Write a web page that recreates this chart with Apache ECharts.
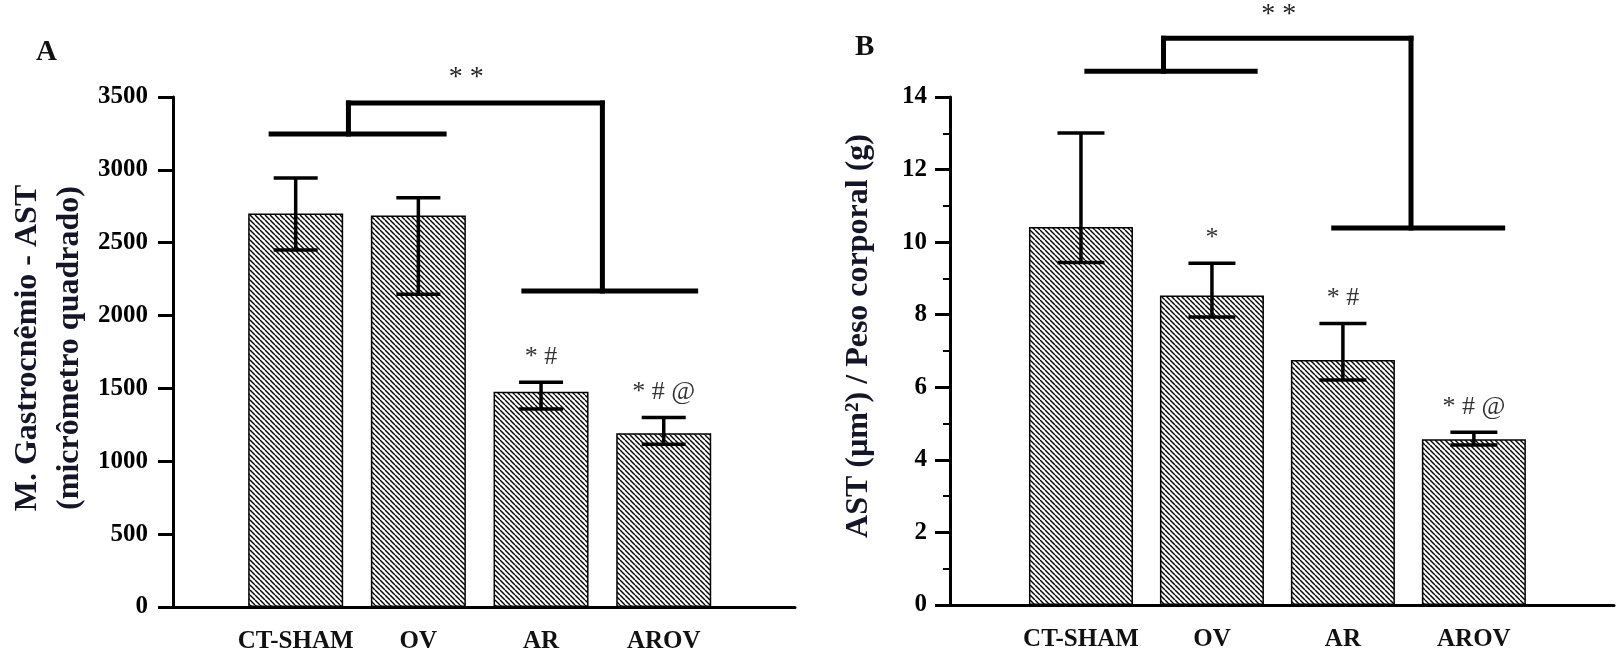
<!DOCTYPE html>
<html>
<head>
<meta charset="utf-8">
<script src="https://cdn.jsdelivr.net/npm/echarts@6/dist/echarts.min.js"></script>
<style>
  html, body { margin: 0; padding: 0; background: #fff; }
  #chart { width: 1617px; height: 657px; }
</style>
</head>
<body>
<div id="chart"></div>
<script>
// Groups and their positions along the x axis
const categories = ['CT-SHAM', 'OV', 'AR', 'AROV'];
const groupPos = [1, 2, 3, 4];

// Panel A: cross-sectional area of gastrocnemius fibres (µm²)
const areaMean = [2700, 2686, 1478, 1192];
const areaLow  = [2450, 2146, 1359, 1117];
const areaHigh = [2944, 2809, 1542, 1300];
const areaMarks = ['', '', '* #', '* # @'];

// Panel B: area normalised by body weight
const ratioMean = [10.42, 8.53, 6.75, 4.57];
const ratioLow  = [9.44, 7.94, 6.20, 4.41];
const ratioHigh = [13.01, 9.42, 7.76, 4.76];
const ratioMarks = ['', '*', '* #', '* # @'];

// Group comparison brackets, segments as [x1, y1, x2, y2] in data units
const areaBracket = [
  [0.80, 3246, 2.21, 3246],
  [1.43, 3246, 1.43, 3459],
  [1.43, 3459, 3.50, 3459],
  [3.50, 3459, 3.50, 2169],
  [2.86, 2169, 4.26, 2169]
];
const areaBracketLabel = [[2.39, 3631]];
const ratioBracket = [
  [1.045, 14.71, 2.33, 14.71],
  [1.63, 14.71, 1.63, 15.62],
  [1.63, 15.62, 3.52, 15.62],
  [3.52, 15.62, 3.52, 10.39],
  [2.93, 10.39, 4.22, 10.39]
];
const ratioBracketLabel = [[2.51, 16.26]];

const SERIF = '"Liberation Serif", "Times New Roman", serif';

// Diagonal hatch fill for the bars
function hatchPattern() {
  const n = 5;
  const c = document.createElement('canvas');
  c.width = n; c.height = n;
  const g = c.getContext('2d');
  g.fillStyle = '#fff';
  g.fillRect(0, 0, n, n);
  g.strokeStyle = '#000';
  g.lineWidth = 1.4;
  for (const off of [-n, 0, n]) {
    g.beginPath();
    g.moveTo(off, 0);
    g.lineTo(off + n, n);
    g.stroke();
  }
  return { image: c, repeat: 'repeat' };
}
const hatch = hatchPattern();

function makeXAxis(gridIndex) {
  return {
    type: 'value', gridIndex, min: 0, max: 5.07, interval: 1,
    axisLine: { lineStyle: { color: '#000', width: 3 } },
    axisTick: { show: false },
    splitLine: { show: false },
    axisLabel: {
      margin: 22,
      color: '#111',
      fontFamily: SERIF, fontWeight: 'bold', fontSize: 25,
      formatter: v => { const i = groupPos.indexOf(v); return i >= 0 ? categories[i] : ''; }
    }
  };
}

function makeYAxis(gridIndex, max, interval, name, nameGap, minor, padLeft, labelMargin) {
  return {
    type: 'value', gridIndex, min: 0, max, interval,
    name, nameLocation: 'middle', nameGap, nameRotate: 90,
    nameTextStyle: {
      fontFamily: SERIF, fontWeight: 'bold', fontSize: 32, color: '#15152a',
      lineHeight: 42, padding: [0, 0, 0, padLeft]
    },
    axisLine: { show: true, lineStyle: { color: '#000', width: 3 } },
    axisTick: { show: true, length: 15, lineStyle: { color: '#000', width: 3 } },
    minorTick: { show: minor, splitNumber: 2, length: 7, lineStyle: { color: '#000', width: 2 } },
    splitLine: { show: false },
    axisLabel: {
      margin: labelMargin, color: '#000',
      fontFamily: SERIF, fontWeight: 'bold', fontSize: 25,
      formatter: v => String(v)
    }
  };
}

function barSeries(idx, values, width) {
  return {
    type: 'bar', xAxisIndex: idx, yAxisIndex: idx,
    barWidth: width,
    data: groupPos.map((x, i) => [x, values[i]]),
    itemStyle: { color: hatch, borderColor: '#000', borderWidth: 1.5 },
    silent: true, z: 2
  };
}

function errorSeries(idx, low, high, marks, capWidth) {
  return {
    type: 'custom', xAxisIndex: idx, yAxisIndex: idx, z: 5, silent: true,
    data: groupPos.map((x, i) => [x, low[i], high[i]]),
    encode: { x: 0, y: [1, 2] },
    renderItem: (params, api) => {
      const x = api.value(0);
      const lo = api.coord([x, api.value(1)]);
      const hi = api.coord([x, api.value(2)]);
      const half = capWidth / 2;
      const style = { stroke: '#000', lineWidth: 3.5 };
      const children = [
        { type: 'line', shape: { x1: lo[0], y1: lo[1], x2: hi[0], y2: hi[1] }, style },
        { type: 'line', shape: { x1: hi[0] - half, y1: hi[1], x2: hi[0] + half, y2: hi[1] }, style },
        { type: 'line', shape: { x1: lo[0] - half, y1: lo[1], x2: lo[0] + half, y2: lo[1] }, style }
      ];
      const mark = marks[params.dataIndex];
      if (mark) {
        children.push({
          type: 'text',
          style: {
            text: mark, x: hi[0], y: hi[1] - 12,
            align: 'center', verticalAlign: 'bottom',
            font: '26px ' + SERIF, fill: '#333'
          }
        });
      }
      return { type: 'group', children };
    }
  };
}

function bracketSeries(idx, segments) {
  return {
    type: 'custom', xAxisIndex: idx, yAxisIndex: idx, z: 6, silent: true, clip: false,
    data: segments,
    encode: { x: [0, 2], y: [1, 3] },
    renderItem: (params, api) => {
      const a = api.coord([api.value(0), api.value(1)]);
      const b = api.coord([api.value(2), api.value(3)]);
      return {
        type: 'line',
        shape: { x1: a[0], y1: a[1], x2: b[0], y2: b[1] },
        style: { stroke: '#000', lineWidth: 5, lineCap: 'square' }
      };
    }
  };
}

function bracketLabelSeries(idx, points) {
  return {
    type: 'custom', xAxisIndex: idx, yAxisIndex: idx, z: 6, silent: true, clip: false,
    data: points,
    encode: { x: 0, y: 1 },
    renderItem: (params, api) => {
      const p = api.coord([api.value(0), api.value(1)]);
      return {
        type: 'text',
        style: {
          text: '* *', x: p[0], y: p[1],
          align: 'center', verticalAlign: 'middle',
          font: '28px ' + SERIF, fill: '#222'
        }
      };
    }
  };
}

const chart = echarts.init(document.getElementById('chart'), null, { renderer: 'canvas' });

chart.setOption({
  animation: false,
  backgroundColor: '#fff',
  grid: [
    { left: 173, top: 97, width: 622, height: 510 },
    { left: 950, top: 97, width: 680, height: 508 }
  ],
  xAxis: [makeXAxis(0), makeXAxis(1)],
  yAxis: [
    makeYAxis(0, 3500, 500, 'M. Gastrocnêmio - AST\n(micrômetro quadrado)', 82, false, 8, 25),
    makeYAxis(1, 14, 2, 'AST (µm²) / Peso corporal (g)', 70, true, 30, 23)
  ],
  graphic: [
    { type: 'text', left: 36, top: 38, style: { text: 'A', font: 'bold 29px ' + SERIF, fill: '#111' } },
    { type: 'text', left: 855, top: 33, style: { text: 'B', font: 'bold 29px ' + SERIF, fill: '#111' } }
  ],
  series: [
    barSeries(0, areaMean, 95),
    errorSeries(0, areaLow, areaHigh, areaMarks, 44),
    bracketSeries(0, areaBracket),
    bracketLabelSeries(0, areaBracketLabel),
    barSeries(1, ratioMean, 104),
    errorSeries(1, ratioLow, ratioHigh, ratioMarks, 47),
    bracketSeries(1, ratioBracket),
    bracketLabelSeries(1, ratioBracketLabel)
  ]
});
</script>
</body>
</html>
